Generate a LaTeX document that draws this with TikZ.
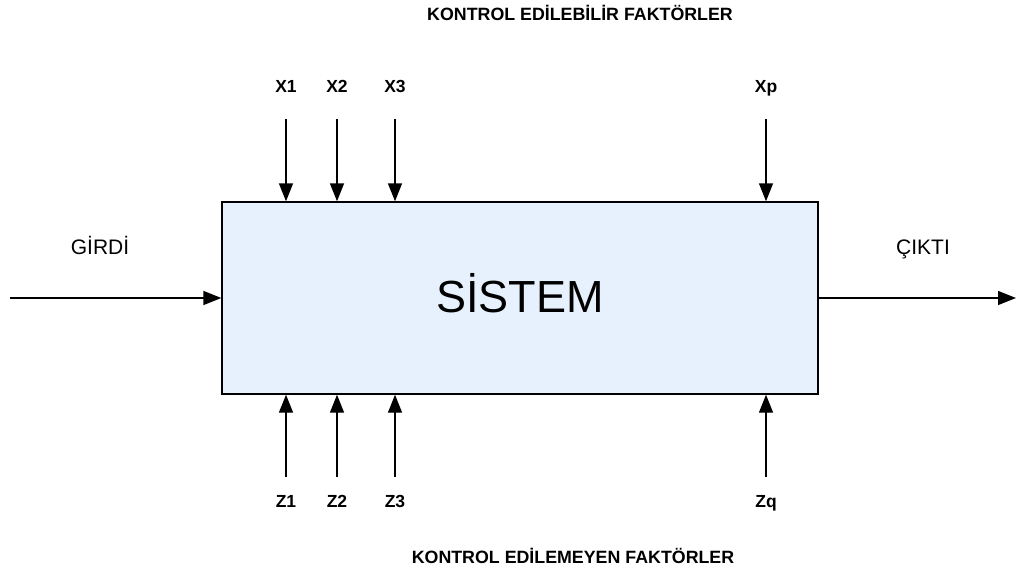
\documentclass[tikz,border=0pt]{standalone}
\usepackage{fontspec}
\setmainfont{Liberation Sans}
\usetikzlibrary{arrows.meta}
\definecolor{boxfill}{HTML}{E7F1FD}
\tikzset{
  conn/.style={draw=black, line width=1.4pt, -{Triangle[length=18pt,width=14pt]}},
  lab/.style={font=\fontsize{17.5}{19}\selectfont\bfseries, inner sep=0pt, anchor=base},
  sidelab/.style={font=\fontsize{21}{24}\selectfont, inner sep=0pt, anchor=base},
  titlelab/.style={font=\fontsize{17.8}{20}\selectfont\bfseries, inner sep=0pt, anchor=base},
  sysbox/.style={draw=black, line width=1.4pt, fill=boxfill, minimum width=596pt, minimum height=192pt, inner sep=0pt}
}
\begin{document}
\begin{tikzpicture}[x=1pt,y=-1pt]
\useasboundingbox (0,0) rectangle (1016,575);
\node[sysbox] (sys) at (520,298) {};
\node[font=\fontsize{45}{50}\selectfont, inner sep=0pt, anchor=base] (systxt) at (520,312) {SİSTEM};
\node[titlelab] (ttop) at (580,21) {KONTROL EDİLEBİLİR FAKTÖRLER};
\node[titlelab] (tbot) at (573,563) {KONTROL EDİLEMEYEN FAKTÖRLER};
\node[sidelab] (girdi) at (100,254) {GİRDİ};
\node[sidelab] (cikti) at (923,254) {ÇIKTI};
\coordinate (in) at (10,298);
\coordinate (out) at (1016,298);
\draw[conn] (in) -- (sys.west |- in);
\draw[conn] (sys.east |- out) -- (out);
\foreach \n/\t/\x in {x1/X1/286, x2/X2/337, x3/X3/395, xp/Xp/766}{
  \node[lab] (\n) at (\x,93) {\t};
  \coordinate (\n s) at (\x,119);
  \draw[conn] (\n s) -- (sys.north -| \n s);
}
\foreach \n/\t/\x in {z1/Z1/286, z2/Z2/337, z3/Z3/395, zq/Zq/766}{
  \node[lab] (\n) at (\x,507) {\t};
  \coordinate (\n s) at (\x,477);
  \draw[conn] (\n s) -- (sys.south -| \n s);
}
\end{tikzpicture}
\end{document}
